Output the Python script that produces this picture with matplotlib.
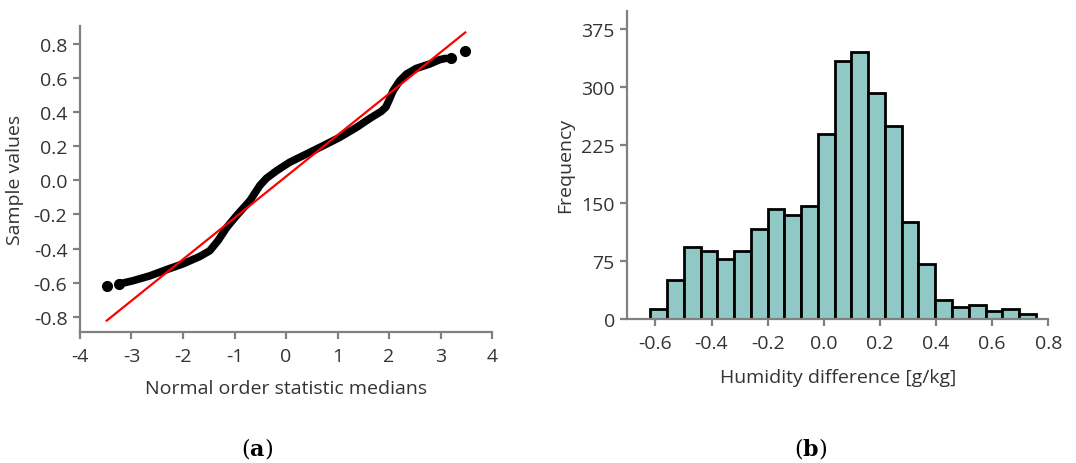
import matplotlib
matplotlib.use("Agg")
import matplotlib.pyplot as plt
import numpy as np

plt.rcParams['font.family'] = ['Open Sans', 'DejaVu Sans']
plt.rcParams['mathtext.fontset'] = 'dejavuserif'

# ---- Panel (a): Q-Q plot data ----
qq_x = [-3.24, -2.97, -2.64, -2.32, -2.00, -1.67, -1.48, -1.32, -1.15, -0.96,
        -0.70, -0.51, -0.38, -0.18, 0.07, 0.40, 0.72, 1.04, 1.37, 1.63,
        1.85, 1.94, 2.00, 2.08, 2.21, 2.34, 2.53, 2.79, 2.98, 3.10]
qq_y = [-0.608, -0.589, -0.560, -0.524, -0.490, -0.446, -0.413, -0.354, -0.276, -0.207,
        -0.119, -0.031, 0.012, 0.057, 0.106, 0.155, 0.203, 0.252, 0.311, 0.364,
        0.405, 0.430, 0.470, 0.526, 0.585, 0.624, 0.657, 0.683, 0.708, 0.716]
outlier_x = [-3.48, -3.24, 3.21, 3.47]
outlier_y = [-0.618, -0.608, 0.718, 0.757]
fit_x = [-3.48, 3.48]
fit_y = [-0.823, 0.868]

# ---- Panel (b): histogram data ----
counts = [13, 50, 93, 88, 78, 88, 116, 143, 134, 146, 239, 334, 345,
          292, 250, 125, 71, 25, 16, 18, 11, 13, 6]
bin_start = -0.6177
bin_width = 0.0597

xticks_a = [-4, -3, -2, -1, 0, 1, 2, 3, 4]
yticks_a = [-0.8, -0.6, -0.4, -0.2, 0.0, 0.2, 0.4, 0.6, 0.8]
xticks_b = [-0.6, -0.4, -0.2, 0.0, 0.2, 0.4, 0.6, 0.8]
yticks_b = [0, 75, 150, 225, 300, 375]

spine_col = '#808080'
text_col = '#333333'
fs = 14

fig = plt.figure(figsize=(10.76, 4.64), dpi=100)
ax1 = fig.add_axes([80/1076, (464-333)/464, 412/1076, 306/464])
ax2 = fig.add_axes([627.3/1076, (464-320)/464, 421/1076, 308.3/464])

def style(ax):
    for s in ['top', 'right']:
        ax.spines[s].set_visible(False)
    for s in ['left', 'bottom']:
        ax.spines[s].set_color(spine_col)
        ax.spines[s].set_linewidth(1.6)
    ax.tick_params(colors=spine_col, width=1.6, length=5, labelsize=fs,
                   labelcolor=text_col, pad=4)
    ax.tick_params(axis='x', pad=6)

# Panel a
ax1.plot(qq_x, qq_y, color='black', lw=5.5, solid_capstyle='round',
         solid_joinstyle='round', zorder=2)
ax1.plot(outlier_x, outlier_y, 'o', color='black', ms=7, zorder=2)
ax1.plot(fit_x, fit_y, color='#ff0000', lw=1.6, zorder=3)
ax1.set_xlim(-4, 4)
ax1.set_ylim(-0.89, 0.906)
ax1.set_xticks(xticks_a)
ax1.set_xticklabels([str(v) for v in xticks_a])
ax1.set_yticks(yticks_a)
ax1.set_yticklabels([f'{v:.1f}' for v in yticks_a])
ax1.set_xlabel('Normal order statistic medians', fontsize=fs, color=text_col, labelpad=10)
ax1.set_ylabel('Sample values', fontsize=fs, color=text_col, labelpad=7)
style(ax1)

# Panel b
edges = bin_start + bin_width * np.arange(len(counts))
ax2.bar(edges, counts, width=bin_width, align='edge', color='#8fc8c4',
        edgecolor='black', linewidth=2.0, zorder=2)
ax2.set_xlim(-0.7, 0.8)
ax2.set_ylim(0, 399)
ax2.set_xticks(xticks_b)
ax2.set_xticklabels([f'{v:.1f}' for v in xticks_b])
ax2.set_yticks(yticks_b)
ax2.set_yticklabels([str(v) for v in yticks_b])
ax2.set_xlabel('Humidity difference [g/kg]', fontsize=fs, color=text_col, labelpad=11)
ax2.set_ylabel('Frequency', fontsize=fs, color=text_col, labelpad=5)
style(ax2)

# captions
fig.text(257/1076, 1 - 449/464, r'($\mathbf{a}$)', fontsize=16, family='DejaVu Serif',
         ha='center', va='center', color='black')
fig.text(811/1076, 1 - 449/464, r'($\mathbf{b}$)', fontsize=16, family='DejaVu Serif',
         ha='center', va='center', color='black')

fig.savefig('out.png', dpi=100)
